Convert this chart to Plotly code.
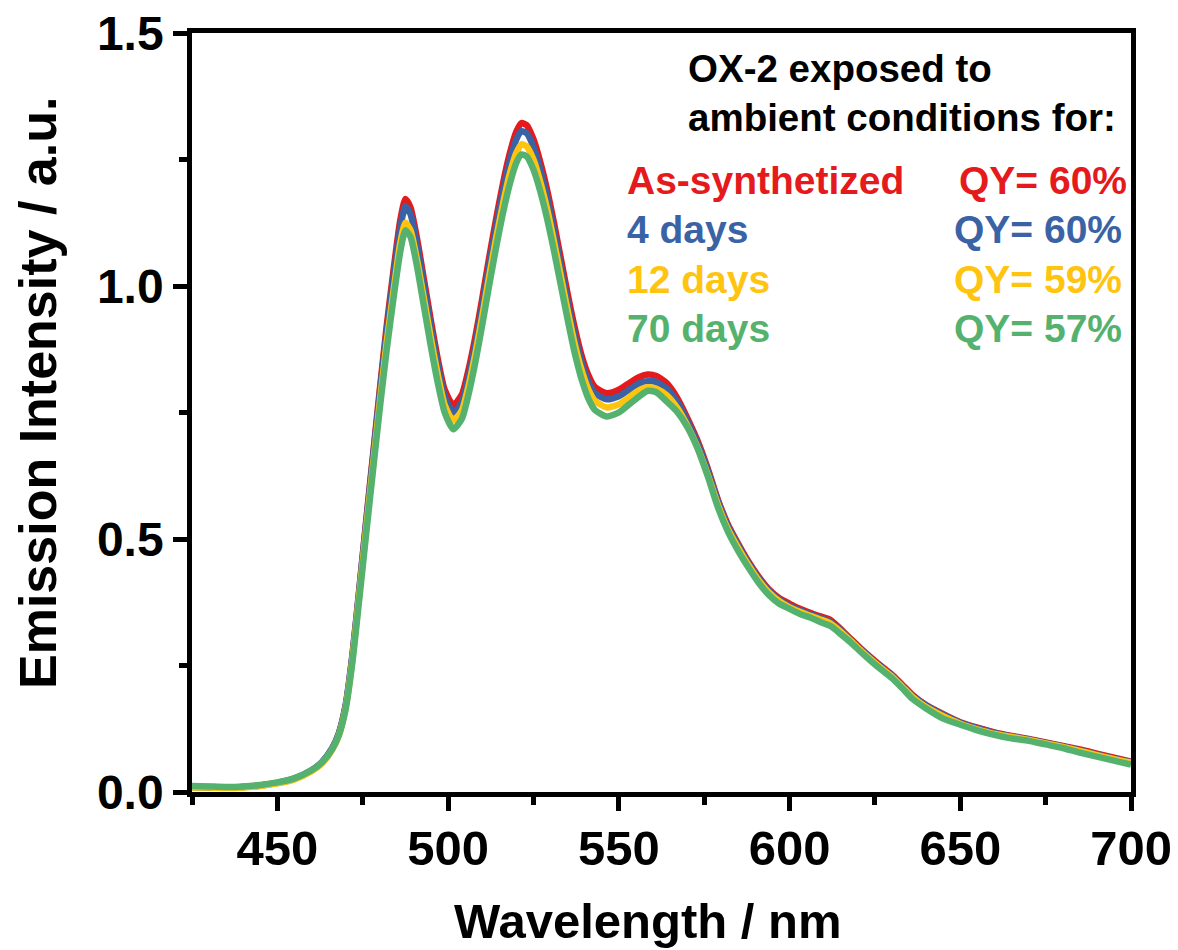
import plotly.graph_objects as go

wavelength = [425, 430, 435, 440, 445, 450, 455, 460, 463, 466, 468, 470, 472, 474, 476, 478, 480, 482, 484, 486,
              487.5, 489, 491, 493, 495, 497, 499, 501.5, 504, 506, 508, 510, 512, 514, 516, 518, 520, 521.5, 523,
              525, 527, 529, 531, 533, 535, 537, 539, 541, 543, 546.5, 550, 553, 556, 558.5, 561, 564, 567, 570,
              573, 576, 579, 582, 585, 588, 591, 594, 597, 600, 603, 606, 609, 612, 615, 618, 621, 624, 627, 630,
              633, 636, 640, 645, 650, 655, 660, 665, 670, 675, 680, 685, 690, 695, 700]

as_synthetized = [0.010, 0.010, 0.009, 0.010, 0.013, 0.018, 0.026, 0.042, 0.058, 0.085, 0.115, 0.170, 0.270, 0.400,
                  0.535, 0.665, 0.795, 0.920, 1.030, 1.130, 1.172, 1.155, 1.090, 1.010, 0.930, 0.855, 0.795, 0.765,
                  0.785, 0.835, 0.900, 0.975, 1.055, 1.130, 1.200, 1.260, 1.305, 1.322, 1.318, 1.290, 1.245, 1.190,
                  1.125, 1.055, 0.985, 0.920, 0.865, 0.825, 0.800, 0.788, 0.795, 0.808, 0.820, 0.825, 0.822, 0.808,
                  0.780, 0.740, 0.695, 0.640, 0.578, 0.528, 0.490, 0.455, 0.425, 0.400, 0.383, 0.372, 0.362, 0.354,
                  0.347, 0.340, 0.322, 0.302, 0.283, 0.265, 0.248, 0.232, 0.212, 0.192, 0.172, 0.154, 0.138, 0.127,
                  0.118, 0.111, 0.105, 0.098, 0.091, 0.084, 0.076, 0.068, 0.060]

days_4 = [0.010, 0.009, 0.009, 0.010, 0.013, 0.018, 0.027, 0.043, 0.059, 0.086, 0.116, 0.172, 0.272, 0.400, 0.532,
          0.660, 0.788, 0.910, 1.018, 1.115, 1.158, 1.142, 1.077, 0.997, 0.917, 0.843, 0.782, 0.750, 0.770, 0.820,
          0.885, 0.960, 1.040, 1.115, 1.185, 1.245, 1.290, 1.306, 1.302, 1.275, 1.230, 1.175, 1.110, 1.040, 0.970,
          0.905, 0.852, 0.812, 0.788, 0.776, 0.782, 0.795, 0.808, 0.812, 0.810, 0.797, 0.772, 0.734, 0.690, 0.636,
          0.575, 0.525, 0.487, 0.452, 0.422, 0.397, 0.380, 0.368, 0.359, 0.351, 0.344, 0.336, 0.319, 0.300, 0.281,
          0.263, 0.246, 0.230, 0.210, 0.190, 0.171, 0.153, 0.137, 0.126, 0.117, 0.110, 0.104, 0.097, 0.090, 0.082,
          0.074, 0.066, 0.059]

days_12 = [0.009, 0.009, 0.008, 0.009, 0.012, 0.017, 0.025, 0.041, 0.056, 0.083, 0.112, 0.166, 0.263, 0.390, 0.520,
           0.645, 0.770, 0.888, 0.990, 1.085, 1.125, 1.110, 1.048, 0.972, 0.895, 0.824, 0.765, 0.734, 0.754, 0.803,
           0.867, 0.940, 1.018, 1.092, 1.160, 1.220, 1.263, 1.280, 1.276, 1.250, 1.206, 1.152, 1.088, 1.020, 0.952,
           0.888, 0.836, 0.797, 0.773, 0.760, 0.766, 0.780, 0.794, 0.800, 0.797, 0.784, 0.760, 0.725, 0.682, 0.628,
           0.568, 0.519, 0.482, 0.448, 0.418, 0.394, 0.377, 0.365, 0.356, 0.348, 0.341, 0.333, 0.317, 0.298, 0.279,
           0.261, 0.244, 0.228, 0.208, 0.188, 0.168, 0.150, 0.135, 0.124, 0.115, 0.109, 0.103, 0.096, 0.089, 0.081,
           0.073, 0.065, 0.058]

days_70 = [0.012, 0.011, 0.010, 0.011, 0.014, 0.019, 0.027, 0.043, 0.058, 0.084, 0.112, 0.164, 0.258, 0.382, 0.510,
           0.635, 0.758, 0.873, 0.975, 1.068, 1.110, 1.097, 1.035, 0.957, 0.879, 0.808, 0.750, 0.717, 0.737, 0.786,
           0.850, 0.923, 1.000, 1.074, 1.142, 1.200, 1.244, 1.260, 1.256, 1.230, 1.187, 1.133, 1.070, 1.002, 0.934,
           0.870, 0.818, 0.779, 0.755, 0.742, 0.750, 0.766, 0.782, 0.793, 0.790, 0.772, 0.752, 0.722, 0.680, 0.625,
           0.563, 0.514, 0.476, 0.443, 0.413, 0.389, 0.372, 0.362, 0.352, 0.345, 0.336, 0.328, 0.312, 0.295, 0.276,
           0.258, 0.241, 0.225, 0.205, 0.184, 0.165, 0.145, 0.133, 0.122, 0.113, 0.106, 0.101, 0.094, 0.087, 0.078,
           0.070, 0.062, 0.054]

series_names = ["As-synthetized", "4 days", "12 days", "70 days"]
qy_labels = ["QY= 60%", "QY= 60%", "QY= 59%", "QY= 57%"]
colors = ["#E41A1C", "#3A63A6", "#FFC40F", "#55B26E"]
series_values = [as_synthetized, days_4, days_12, days_70]

x_ticks = [450, 500, 550, 600, 650, 700]
y_ticks = [0.0, 0.5, 1.0, 1.5]

W, H = 1178, 950
L, R, T, B = 192, 47, 33, 158
PW, PH = W - L - R, H - T - B

FONT = "Liberation Sans, Arial, sans-serif"

def px(xp):
    return (xp - L) / PW

def py(yp):
    return (H - B - yp) / PH

fig = go.Figure()
for name, vals, col in zip(series_names, series_values, colors):
    fig.add_trace(go.Scatter(x=wavelength, y=vals, mode="lines", name=name,
                             line=dict(color=col, width=6.5, shape="spline", smoothing=0.6),
                             showlegend=False))

axis_common = dict(showline=True, linecolor="black", linewidth=4.5, mirror=True,
                   ticks="outside", tickwidth=4.5, tickcolor="black", ticklen=14,
                   showgrid=False, zeroline=False, automargin=False)

fig.update_xaxes(range=[425, 700], tickvals=x_ticks, ticktext=[str(v) for v in x_ticks],
                 tickfont=dict(family=FONT, size=49, color="black", weight="bold"),
                 ticklabelstandoff=-5,
                 minor=dict(dtick=25, tick0=425, ticklen=8, tickwidth=4.5, tickcolor="black", ticks="outside"),
                 **axis_common)
fig.update_yaxes(range=[0, 1.5], tickvals=y_ticks, ticktext=[f"{v:.1f}" for v in y_ticks],
                 tickfont=dict(family=FONT, size=48, color="black", weight="bold"),
                 minor=dict(dtick=0.25, tick0=0, ticklen=8, tickwidth=4.5, tickcolor="black", ticks="outside"),
                 **axis_common)

annotations = []
# axis titles
annotations.append(dict(x=px(648), y=py(921), xref="paper", yref="paper", text="Wavelength / nm",
                        showarrow=False, font=dict(family=FONT, size=49, color="black", weight="bold"),
                        xanchor="center", yanchor="middle"))
annotations.append(dict(x=px(38), y=py(393), xref="paper", yref="paper", text="Emission Intensity / a.u.",
                        showarrow=False, textangle=-90,
                        font=dict(family=FONT, size=52, color="black", weight="bold"),
                        xanchor="center", yanchor="middle"))
# header
header_lines = ["OX-2 exposed to", "ambient conditions for:"]
for i, t in enumerate(header_lines):
    annotations.append(dict(x=px(686), y=py(68 + 50 * i), xref="paper", yref="paper", text=t,
                            showarrow=False, font=dict(family=FONT, size=38.5, color="black", weight="bold"),
                            xanchor="left", yanchor="middle"))
for i, (name, qy, col) in enumerate(zip(series_names, qy_labels, colors)):
    yy = 180 + 49.5 * i
    annotations.append(dict(x=px(625), y=py(yy), xref="paper", yref="paper", text=name,
                            showarrow=False, font=dict(family=FONT, size=39, color=col, weight="bold"),
                            xanchor="left", yanchor="middle"))
    annotations.append(dict(x=px(1129 if i == 0 else 1124), y=py(yy), xref="paper", yref="paper", text=qy,
                            showarrow=False, font=dict(family=FONT, size=39, color=col, weight="bold"),
                            xanchor="right", yanchor="middle"))

fig.update_layout(width=W, height=H, margin=dict(l=L, r=R, t=T, b=B, autoexpand=False),
                  plot_bgcolor="white", paper_bgcolor="white", annotations=annotations)

fig.write_html("out.html")
